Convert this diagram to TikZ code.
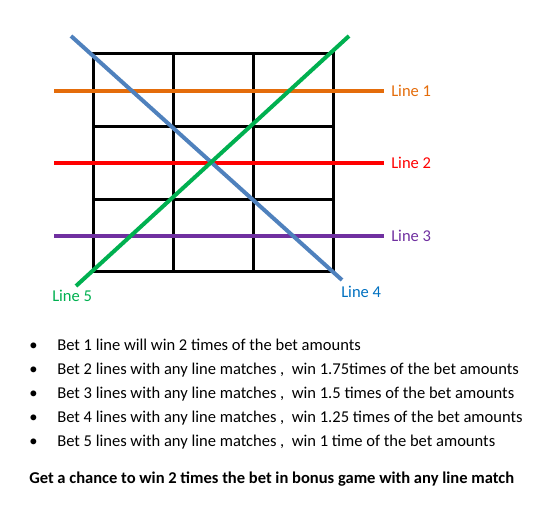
\documentclass[tikz,border=0pt]{standalone}
\usepackage{fontspec}
\setmainfont{Carlito}
\definecolor{lineorange}{HTML}{E46C0A}
\definecolor{linered}{HTML}{FF0000}
\definecolor{linepurple}{HTML}{7030A0}
\definecolor{lineblue}{HTML}{4F81BD}
\definecolor{labelblue}{HTML}{0070C0}
\definecolor{linegreen}{HTML}{00B050}
\begin{document}
\begin{tikzpicture}[x=0.75pt, y=-0.75pt, font=\fontsize{12.4}{14}\selectfont,
    gridline/.style={line width=2.25pt},
    payline/.style={line width=3pt},
    linelabel/.style={anchor=west, inner sep=0pt},
    rule/.style={anchor=base west, inner sep=0pt}]
    \useasboundingbox (0,0) rectangle (553,514);

    % Grid
    \draw[gridline] (93,53) rectangle (333,271);
    \draw[gridline] (173,53) -- (173,271);
    \draw[gridline] (253,53) -- (253,271);
    \draw[gridline] (93,126) -- (333,126);
    \draw[gridline] (93,199) -- (333,199);

    % Horizontal pay lines
    \coordinate (l1w) at (54,91);  \coordinate (l1e) at (384,91);
    \coordinate (l2w) at (54,163); \coordinate (l2e) at (384,163);
    \coordinate (l3w) at (54,236); \coordinate (l3e) at (384,236);
    \draw[payline, lineorange] (l1w) -- (l1e);
    \draw[payline, linered] (l2w) -- (l2e);
    \draw[payline, linepurple] (l3w) -- (l3e);
    \node[linelabel, text=lineorange] (lab1) at (391,91) {Line 1};
    \node[linelabel, text=linered] (lab2) at (391,163) {Line 2};
    \node[linelabel, text=linepurple] (lab3) at (391,236) {Line 3};

    % Diagonal pay lines
    \coordinate (l4a) at (71,36);  \coordinate (l4b) at (342,280);
    \coordinate (l5a) at (76,286); \coordinate (l5b) at (349,36);
    \draw[payline, lineblue] (l4a) -- (l4b);
    \draw[payline, linegreen] (l5a) -- (l5b);
    \node[linelabel, text=labelblue] (lab4) at (341,292) {Line 4};
    \node[linelabel, text=linegreen] (lab5) at (52,296) {Line 5};

    % Rules
    \foreach \y/\txt [count=\i] in {
        350/{Bet 1 line will win 2 times of the bet amounts},
        374/{Bet 2 lines with any line matches ,\ \ win 1.75times of the bet amounts},
        398/{Bet 3 lines with any line matches ,\ \ win 1.5 times of the bet amounts},
        422/{Bet 4 lines with any line matches ,\ \ win 1.25 times of the bet amounts},
        446/{Bet 5 lines with any line matches ,\ \ win 1 time of the bet amounts}} {
        \node[rule] (dot\i) at (29,\y) {•};
        \node[rule] (rule\i) at (57,\y) {\txt};
    }
    \node[rule, font=\fontsize{12.4}{14}\selectfont\bfseries] (bonus) at (29,483)
        {Get a chance to win 2 times the bet in bonus game with any line match};
\end{tikzpicture}
\end{document}
